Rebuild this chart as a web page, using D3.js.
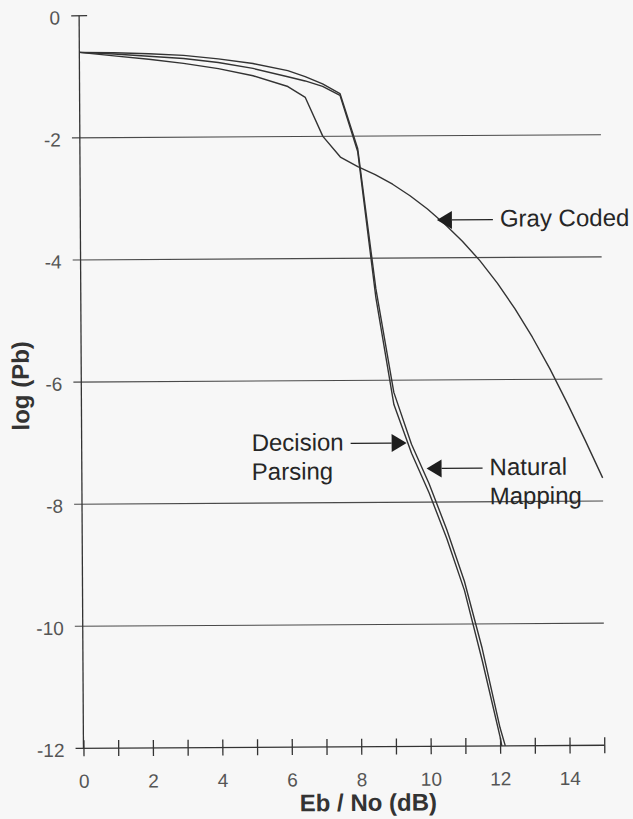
<!DOCTYPE html>
<html>
<head>
<meta charset="utf-8">
<script src="https://cdn.jsdelivr.net/npm/d3@7"></script>
<style>
  html, body { margin: 0; padding: 0; background: #f7f7f7; }
  svg { display: block; }
  text { font-family: "Liberation Sans", Arial, Helvetica, sans-serif; }
</style>
</head>
<body>
<script>
// Bit error probability vs. Eb/No for three symbol mapping schemes
const ebnoGray = [0, 1, 2, 3, 4, 5, 6, 6.5, 7, 7.5, 8, 8.5, 9, 9.5, 10, 10.5, 11, 11.5, 12, 12.5, 13, 13.5, 14, 14.5, 15];
const grayCoded = [-0.6, -0.66, -0.72, -0.79, -0.88, -1.0, -1.18, -1.36, -2.0, -2.34, -2.5, -2.63, -2.79, -2.98, -3.2, -3.45, -3.73, -4.05, -4.42, -4.84, -5.31, -5.83, -6.4, -7.0, -7.62];

const ebnoDecision = [0, 1, 2, 3, 4, 5, 6, 6.5, 7, 7.5, 8, 8.5, 9, 9.5, 10, 10.5, 11, 11.5, 12, 12.05];
const decisionParsing = [-0.6, -0.63, -0.67, -0.71, -0.78, -0.88, -1.02, -1.09, -1.18, -1.33, -2.25, -4.65, -6.4, -7.2, -7.85, -8.6, -9.45, -10.6, -11.85, -12];

const ebnoNatural = [0, 1, 2, 3, 4, 5, 6, 6.5, 7, 7.5, 8, 8.5, 9, 9.5, 10, 10.5, 11, 11.5, 12, 12.15];
const naturalMapping = [-0.6, -0.61, -0.63, -0.66, -0.72, -0.8, -0.92, -1.02, -1.14, -1.3, -2.2, -4.5, -6.2, -7.05, -7.7, -8.45, -9.3, -10.4, -11.7, -12];

const xTicks = d3.range(0, 16);
const yTicks = [0, -2, -4, -6, -8, -10, -12];

// Curve labels: text lines, the point each arrow touches, and arrow direction
const labelNames = ["Gray Coded", "Decision Parsing", "Natural Mapping"];
const labelLines = [["Gray Coded"], ["Decision", "Parsing"], ["Natural", "Mapping"]];
const labelTips = [[10.27, -3.38], [9.36, -7.03], [9.93, -7.45]];
const labelSide = ["right", "left", "right"];

const W = 633, H = 819;
const svg = d3.select("body").append("svg").attr("width", W).attr("height", H);
svg.append("rect").attr("width", W).attr("height", H).attr("fill", "#f7f7f7");

// the printed page sits very slightly turned
const g = svg.append("g").attr("transform", "rotate(-0.34, 340, 400)");

const x = d3.scaleLinear().domain([0, 15]).range([81.4, 602.2]);
const y = d3.scaleLinear().domain([-12, 0]).range([746.8, 14.2]);

const ink = "#333";
const labelInk = "#555";
const gridLeft = 73.5, gridRight = 602.5;

// horizontal grid lines
g.append("g").selectAll("line")
  .data(yTicks.filter(d => d !== 0 && d !== -12))
  .join("line")
  .attr("x1", gridLeft).attr("x2", gridRight)
  .attr("y1", d => y(d)).attr("y2", d => y(d))
  .attr("stroke", "#4a4a4a").attr("stroke-width", 1.1);

// y axis
const yAxis = g.append("g")
  .attr("transform", `translate(${x(0)},0)`)
  .call(d3.axisLeft(y).tickValues(yTicks).tickSize(0).tickPadding(19).tickFormat(d => String(d)));
yAxis.select(".domain").remove();
yAxis.selectAll("text")
  .attr("font-size", 19).attr("fill", labelInk).attr("dy", "0.42em")
  .style("font-family", "'Liberation Sans', Arial, sans-serif");
g.append("line")
  .attr("x1", x(0)).attr("x2", x(0)).attr("y1", y(0)).attr("y2", y(-12))
  .attr("stroke", ink).attr("stroke-width", 1.3);
g.append("line")
  .attr("x1", gridLeft).attr("x2", x(0) + 8).attr("y1", y(0)).attr("y2", y(0))
  .attr("stroke", ink).attr("stroke-width", 1.3);

// x axis
const xAxis = g.append("g")
  .attr("transform", `translate(0,${y(-12)})`)
  .call(d3.axisBottom(x).tickValues(xTicks).tickSize(8).tickPadding(18)
    .tickFormat(d => d % 2 === 0 ? String(d) : ""));
xAxis.select(".domain").remove();
xAxis.selectAll(".tick line").attr("y1", -8).attr("y2", 8).attr("stroke", ink).attr("stroke-width", 1.3);
xAxis.selectAll("text")
  .attr("font-size", 19).attr("fill", labelInk)
  .style("font-family", "'Liberation Sans', Arial, sans-serif");
g.append("line")
  .attr("x1", gridLeft).attr("x2", gridRight).attr("y1", y(-12)).attr("y2", y(-12))
  .attr("stroke", ink).attr("stroke-width", 1.3);

// axis titles
g.append("text")
  .attr("x", 366).attr("y", 811)
  .attr("text-anchor", "middle")
  .attr("font-size", 24).attr("font-weight", "bold").attr("fill", "#333")
  .text("Eb / No (dB)");
g.append("text")
  .attr("transform", "translate(29,384) rotate(-90)")
  .attr("text-anchor", "middle")
  .attr("font-size", 24).attr("font-weight", "bold").attr("fill", "#333")
  .text("log (Pb)");

// curves
const series = [
  { name: "Gray Coded", xs: ebnoGray, ys: grayCoded },
  { name: "Decision Parsing", xs: ebnoDecision, ys: decisionParsing },
  { name: "Natural Mapping", xs: ebnoNatural, ys: naturalMapping }
];
const line = d3.line().x(d => x(d[0])).y(d => y(d[1]));
g.append("g").selectAll("path")
  .data(series)
  .join("path")
  .attr("d", s => line(s.xs.map((v, i) => [v, s.ys[i]])))
  .attr("fill", "none")
  .attr("stroke", ink)
  .attr("stroke-width", 1.4)
  .attr("stroke-linejoin", "round");

// labels with arrows
const headLen = 15, headHalf = 9, shaft = 41, gap = 7;
labelNames.forEach((name, i) => {
  const tx = x(labelTips[i][0]), ty = y(labelTips[i][1]);
  const dir = labelSide[i] === "right" ? 1 : -1;
  const a = g.append("g");
  a.append("path")
    .attr("d", `M${tx},${ty} L${tx + dir * headLen},${ty - headHalf} L${tx + dir * headLen},${ty + headHalf} Z`)
    .attr("fill", "#1e1e1e");
  a.append("line")
    .attr("x1", tx + dir * headLen).attr("x2", tx + dir * (headLen + shaft))
    .attr("y1", ty).attr("y2", ty)
    .attr("stroke", "#222").attr("stroke-width", 1.3);
  const t = a.append("text")
    .attr("x", tx + dir * (headLen + shaft + gap))
    .attr("y", ty + 7)
    .attr("text-anchor", dir === 1 ? "start" : "end")
    .attr("font-size", 24).attr("fill", "#262626");
  labelLines[i].forEach((ln, k) => {
    t.append("tspan")
      .attr("x", tx + dir * (headLen + shaft + gap))
      .attr("dy", k === 0 ? 0 : 29)
      .text(ln);
  });
  if (dir === -1) {
    // multi-line labels on the left are left-aligned to their first line
    const first = t.select("tspan").node().getComputedTextLength();
    const left = tx - (headLen + shaft + gap) - first;
    t.attr("text-anchor", "start");
    t.selectAll("tspan").attr("x", left);
  }
});
</script>
</body>
</html>
